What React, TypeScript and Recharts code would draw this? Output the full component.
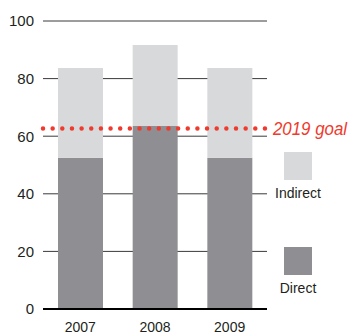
import React from 'react';
import { BarChart, Bar, XAxis, YAxis, CartesianGrid, ReferenceLine, Legend } from 'recharts';

const years = ['2007', '2008', '2009'];
const direct = [52.5, 63.5, 52.5];
const indirect = [31.2, 28.2, 31.2];
const goal = 62.7;
const goalLabel = '2019 goal';
const yTicks = [0, 20, 40, 60, 80, 100];

const COLORS = {
  direct: '#8f8e93',
  indirect: '#d8d9db',
  goal: '#ef3a2d',
  text: '#231f20',
};

const data = years.map((year, i) => ({ year, direct: direct[i], indirect: indirect[i] }));

const FONT = '"Liberation Sans", Arial, sans-serif';

const renderLegend = (props: any) => {
  const items = [...(props.payload || [])].reverse();
  return (
    <div style={{ fontFamily: FONT, fontSize: 14, color: COLORS.text }}>
      {items.map((item: any, i: number) => (
        <div
          key={item.value}
          style={{ display: 'flex', flexDirection: 'column', alignItems: 'center', marginBottom: i === 0 ? 46 : 0 }}
        >
          <div style={{ width: 28, height: 28, background: item.color }} />
          <div style={{ marginTop: 5, lineHeight: '16px' }}>{item.value}</div>
        </div>
      ))}
    </div>
  );
};

// goal label sits just right of the dotted line, kept inside the frame
const GoalLabel = (props: any) => {
  const { viewBox } = props;
  const x = viewBox.x + viewBox.width + 6;
  const y = viewBox.y;
  return (
    <text
      x={x}
      y={y}
      dy="0.36em"
      fill={COLORS.goal}
      fontSize={17.5}
      fontStyle="italic"
      fontFamily={FONT}
      textLength={74}
      lengthAdjust="spacingAndGlyphs"
    >
      {goalLabel}
    </text>
  );
};

export default function App() {
  return (
    <div style={{ position: 'absolute', left: 0, top: 0 }}>
      <BarChart width={350} height={334} data={data} margin={{ top: 21, right: 83, bottom: 0, left: 0 }}>
        <CartesianGrid vertical={false} stroke="#3a3a3a" />
        <XAxis
          dataKey="year"
          height={25}
          tickLine={false}
          tickSize={0}
          tickMargin={13}
          axisLine={{ stroke: '#000', strokeWidth: 2 }}
          tick={{ fontSize: 14, fill: COLORS.text, fontFamily: FONT }}
        />
        <YAxis
          width={43}
          domain={[0, 100]}
          ticks={yTicks}
          axisLine={false}
          tickLine={false}
          tickSize={0}
          tickMargin={9}
          tick={{ fontSize: 15, fill: COLORS.text, fontFamily: FONT }}
        />
        <Legend
          layout="vertical"
          align="center"
          verticalAlign="middle"
          content={renderLegend}
          wrapperStyle={{ position: 'absolute', left: 270, top: 152, width: 56 }}
        />
        <Bar dataKey="direct" name="Direct" stackId="a" fill={COLORS.direct} barSize={45} isAnimationActive={false} />
        <Bar dataKey="indirect" name="Indirect" stackId="a" fill={COLORS.indirect} barSize={45} isAnimationActive={false} />
        <ReferenceLine
          y={goal}
          stroke={COLORS.goal}
          strokeWidth={4.5}
          strokeDasharray="0 9.65"
          strokeLinecap="round"
          label={<GoalLabel />}
        />
      </BarChart>
    </div>
  );
}
